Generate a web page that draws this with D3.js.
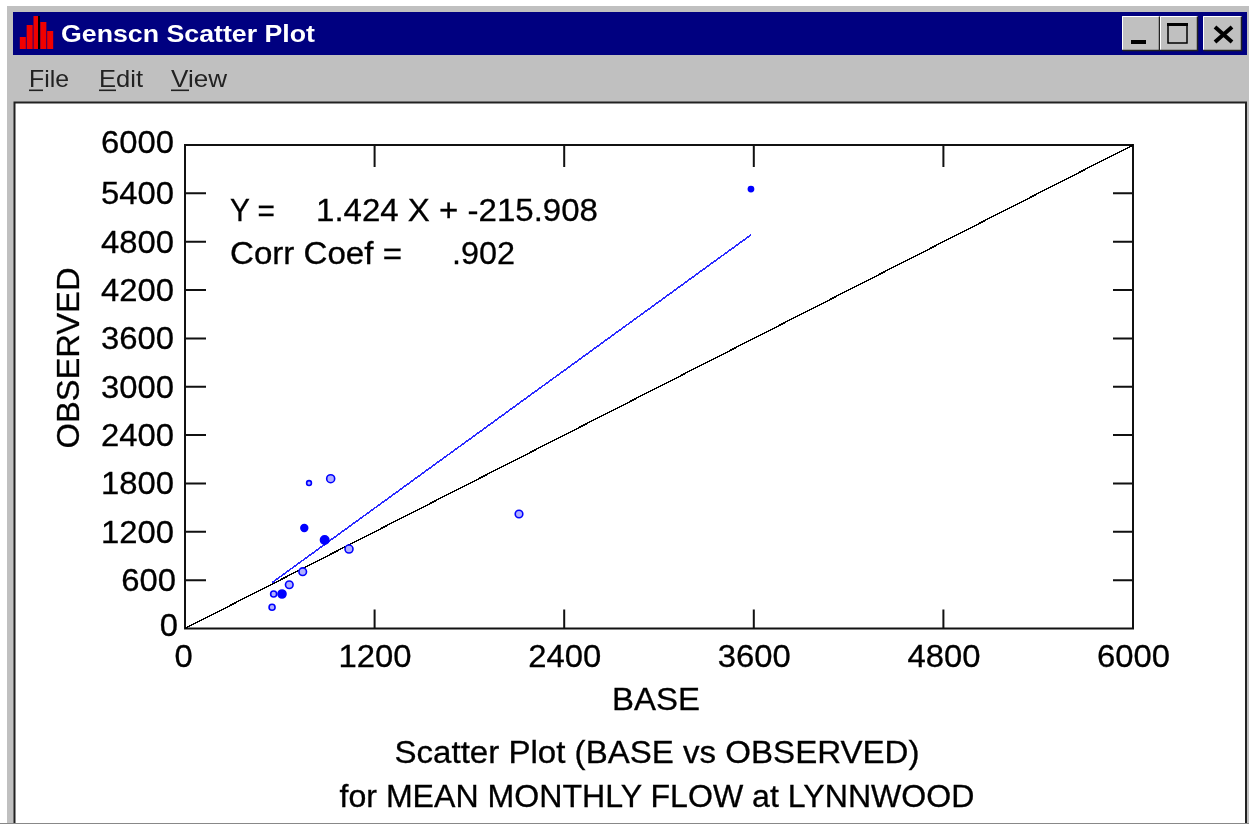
<!DOCTYPE html>
<html><head><meta charset="utf-8">
<script src="https://cdn.jsdelivr.net/npm/d3@7/dist/d3.min.js"></script>
<style>
html,body{margin:0;padding:0;background:#fff;overflow:hidden}
svg{display:block;filter:blur(0.5px)}
text{font-family:"Liberation Sans",Arial,sans-serif;fill:#000;stroke:#000;stroke-width:0.3px}
</style></head><body><div id="c"></div>
<script>
const baseValues=[551,561,614,660,745,755,785,884,922,1038,2114,3582];
const observedValues=[263,428,428,543,705,1247,1805,1098,1859,986,1421,5453];
const regressionX=[551,3582];
const regressionY=[569,4885];
const identityX=[0,6000];
const identityY=[0,6000];
const xTickValues=[0,1200,2400,3600,4800,6000];
const yTickValues=[0,600,1200,1800,2400,3000,3600,4200,4800,5400,6000];
const iconBars=[12,24,33,27,18];
const menuItems=["File","Edit","View"];
const titleLines=["Scatter Plot (BASE vs OBSERVED)","for MEAN MONTHLY FLOW at LYNNWOOD"];

const W=1249,H=824;
const svg=d3.select("#c").append("svg").attr("width",W).attr("height",H);
const rect=(x,y,w,h,f,s)=>svg.append("rect").attr("x",x).attr("y",y).attr("width",w).attr("height",h).attr("fill",f).attr("stroke",s||"none");
const label=(x,y,t,len,size,anchor)=>svg.append("text").attr("x",x).attr("y",y).attr("font-size",size||31)
  .attr("text-anchor",anchor||"start").attr("textLength",len).attr("lengthAdjust","spacingAndGlyphs").text(t);

// window chrome
rect(0,0,W,H,"#fff");
rect(7,6,1242,818,"#c0c0c0");
rect(13,12,1234,43,"#000080");
rect(14.5,102.5,1231.5,760,"#fff","#222").attr("stroke-width",2);
rect(0,823,W,1,"#888");

// icon
const iconX=d3.scaleBand().domain(d3.range(iconBars.length)).range([19,54]).padding(0.12);
const iconY=d3.scaleLinear().domain([0,33]).range([49,16]);
svg.selectAll(".ib").data(iconBars).join("rect").attr("x",(d,i)=>iconX(i)).attr("width",iconX.bandwidth())
 .attr("y",d=>iconY(d)).attr("height",d=>49-iconY(d)).attr("fill","#f00000");
rect(38,16,2,33,"#000");
label(61,42,"Genscn Scatter Plot",254,24).attr("font-weight",700).style("fill","#fff").style("stroke","none");

// buttons
[[1122,"min"],[1160,"max"],[1203,"close"]].forEach(([x,k])=>{
  const w=k==="close"?39:38;
  rect(x,16,w,34,"#c0c0c0");
  svg.append("path").attr("d",`M${x+.5},49.5V16.5H${x+w-.5}`).attr("fill","none").attr("stroke","#fff");
  svg.append("path").attr("d",`M${x+.5},50.5H${x+w-.5}V16.5`).attr("fill","none").attr("stroke","#222").attr("stroke-width",1.5);
  if(k==="min") rect(x+9,40,15,4,"#000");
  if(k==="max"){ svg.append("rect").attr("x",x+8).attr("y",24).attr("width",19).attr("height",19).attr("fill","none").attr("stroke","#000").attr("stroke-width",1.5); rect(x+7,23,21,3,"#000"); }
  if(k==="close") svg.append("path").attr("d",`M${x+12},27L${x+29},42M${x+29},27L${x+12},42`).attr("stroke","#000").attr("stroke-width",4);
});

// menu
[[29,40,14],[99,44,17],[171,56,18]].forEach(([x,w,u],i)=>{
  label(x,87,menuItems[i],w,24).style("fill","#222").style("stroke","none");
  rect(x,89.5,u,1.6,"#222");
});

// plot
const x=d3.scaleLinear().domain([0,6000]).range([185,1133]);
const y=d3.scaleLinear().domain([0,6000]).range([628.5,145]);
rect(185,145,948,483.5,"none","#111").attr("stroke-width",2);

const digit=18.25;
const xa=svg.append("g").attr("transform","translate(0,628.5)").call(d3.axisBottom(x).tickValues(xTickValues).tickSize(0).tickFormat(d3.format("d")).tickPadding(16));
xa.select(".domain").remove();
xa.selectAll("text").attr("font-size",31).attr("dy","0.71em").attr("font-family","Liberation Sans").attr("x",d=>d===0?-2:0)
  .attr("textLength",d=>String(d).length*digit).attr("lengthAdjust","spacingAndGlyphs");
const ya=svg.append("g").attr("transform","translate(185,0)").call(d3.axisLeft(y).tickValues(yTickValues).tickSize(0).tickFormat(d3.format("d")).tickPadding(11));
ya.select(".domain").remove();
ya.selectAll("text").attr("font-size",31).attr("font-family","Liberation Sans").attr("dy",d=>(d===0||d===6000)?"0.24em":"0.34em")
  .attr("x",d=>d===0?-7:d===600?-9:-11)
  .attr("textLength",d=>String(d).length*digit).attr("lengthAdjust","spacingAndGlyphs");

svg.selectAll(".xt").data(xTickValues.slice(1,-1)).join("path").attr("d",d=>`M${x(d)},628.5v-19M${x(d)},145v22`).attr("stroke","#111").attr("stroke-width",2);
svg.selectAll(".yt").data(yTickValues.slice(1,-1)).join("path").attr("d",d=>`M185,${y(d)}h21M1133,${y(d)}h-20`).attr("stroke","#111").attr("stroke-width",2);

const line=d3.line().x(d=>x(d[0])).y(d=>y(d[1]));
svg.append("path").attr("d",line(d3.zip(identityX,identityY))).attr("fill","none").attr("stroke","#000").attr("stroke-width",1.4).attr("shape-rendering","crispEdges");
svg.append("path").attr("d",line(d3.zip(regressionX,regressionY))).attr("fill","none").attr("stroke","#2a2aff").attr("stroke-width",1.6).attr("shape-rendering","crispEdges");

const marker=[3,3,4,3.8,3.8,3.4,2.4,4.2,4,4,3.8,2.6];
const hollow=[1,1,0,1,1,0,1,0,1,1,1,0];
svg.selectAll(".p").data(d3.zip(baseValues,observedValues)).join("circle")
 .attr("cx",d=>x(d[0])).attr("cy",d=>y(d[1])).attr("r",(d,i)=>marker[i])
 .attr("fill",(d,i)=>hollow[i]?"#b0b0ff":"#0000ff").attr("stroke","#0000ff").attr("stroke-width",1.6);

// annotation
label(230,221,"Y =",45);
label(316,221,"1.424 X + -215.908",282);
label(230,264,"Corr Coef =",172);
label(452,264,".902",63);

// labels
label(656,710,"BASE",88,31,"middle");
svg.append("text").attr("transform","translate(79,358) rotate(-90)").attr("text-anchor","middle").attr("font-size",31)
  .attr("textLength",181).attr("lengthAdjust","spacingAndGlyphs").text("OBSERVED");
label(657,763,titleLines[0],525,31,"middle");
label(657,807,titleLines[1],635,31,"middle");
</script></body></html>
